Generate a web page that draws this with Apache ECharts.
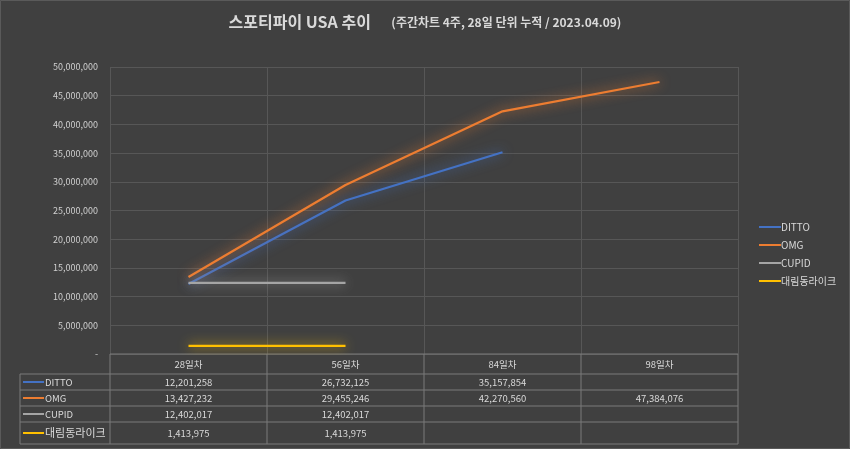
<!DOCTYPE html>
<html>
<head>
<meta charset="utf-8">
<script src="https://cdn.jsdelivr.net/npm/echarts@6/dist/echarts.min.js"></script>
<style>
html,body{margin:0;padding:0;background:#404040;}
#c{width:850px;height:449px;}
</style>
</head>
<body>
<div id="c"></div>
<script>
const categories = ['28일차', '56일차', '84일차', '98일차'];
const seriesNames = ['DITTO', 'OMG', 'CUPID', '대림동라이크'];
const ditto = [12201258, 26732125, 35157854, null];
const omg = [13427232, 29455246, 42270560, 47384076];
const cupid = [12402017, 12402017, null, null];
const daerim = [1413975, 1413975, null, null];
const colors = ['#4472C4', '#ED7D31', '#A5A5A5', '#FFC000'];
const yTicks = { min: 0, max: 50000000, interval: 5000000 };

const allData = [ditto, omg, cupid, daerim];
const FONT = '"Noto Sans CJK KR", "Noto Sans", sans-serif';
const fmt = v => v == null ? '' : v.toLocaleString('en-US');

const chart = echarts.init(document.getElementById('c'));
const gridLeft = 110, gridRight = 112, gridTop = 67, gridBottom = 95;

chart.setOption({
  backgroundColor: '#404040',
  animation: false,
  textStyle: { fontFamily: FONT },
  title: {
    text: '{a|스포티파이 USA 추이}     {b|(주간차트 4주, 28일 단위 누적 / 2023.04.09)}',
    left: 'center',
    top: 8,
    textStyle: {
      rich: {
        a: { fontSize: 16, fontWeight: 'bold', color: '#d9d9d9', fontFamily: FONT },
        b: { fontSize: 12, fontWeight: 'bold', color: '#d9d9d9', fontFamily: FONT }
      }
    }
  },
  legend: {
    orient: 'vertical',
    left: 754,
    top: 217,
    itemGap: 8,
    itemWidth: 22,
    itemHeight: 2,
    icon: 'rect',
    textStyle: { color: '#d9d9d9', fontSize: 10, padding: [0, 0, 0, -5] },
    data: seriesNames
  },
  grid: { left: gridLeft, right: gridRight, top: gridTop, bottom: gridBottom, containLabel: false },
  xAxis: {
    type: 'category',
    data: categories,
    boundaryGap: true,
    axisLine: { show: false },
    axisTick: { show: false },
    axisLabel: { color: '#d9d9d9', fontSize: 9.5, margin: 6 },
    splitLine: { show: true, lineStyle: { color: '#575757', width: 1 } }
  },
  yAxis: {
    type: 'value',
    min: yTicks.min, max: yTicks.max, interval: yTicks.interval,
    axisLine: { show: false },
    axisTick: { show: false },
    axisLabel: {
      color: '#d0d0d0', fontSize: 9, margin: 12,
      formatter: v => v === 0 ? '-' : fmt(v)
    },
    splitLine: { lineStyle: { color: '#575757', width: 1 } }
  },
  series: seriesNames.map((n, i) => ({
    name: n,
    type: 'line',
    data: allData[i],
    symbol: 'none',
    connectNulls: false,
    color: colors[i],
    lineStyle: {
      width: 2.2,
      color: colors[i],
      shadowColor: colors[i],
      shadowBlur: 12
    }
  }))
});

// Data table drawn from the arrays, positioned via the axis scale
function drawTable() {
  const c0 = chart.convertToPixel({ xAxisIndex: 0 }, categories[0]);
  const c1 = chart.convertToPixel({ xAxisIndex: 0 }, categories[1]);
  const bw = c1 - c0;
  const x0 = c0 - bw / 2;
  const xEnd = x0 + bw * categories.length;
  const yTop = chart.convertToPixel({ yAxisIndex: 0 }, 0);
  const leftX = 20;
  const rowTops = [yTop + 20, yTop + 36, yTop + 52, yTop + 68];
  const bottom = yTop + 90;
  const lineColor = '#7a7a7a';
  const els = [];
  els.push({ type: 'line', shape: { x1: x0, y1: yTop, x2: xEnd, y2: yTop }, style: { stroke: lineColor, lineWidth: 1 } });
  rowTops.concat([bottom]).forEach(y => {
    els.push({ type: 'line', shape: { x1: leftX, y1: y, x2: xEnd, y2: y }, style: { stroke: lineColor, lineWidth: 1 } });
  });
  els.push({ type: 'line', shape: { x1: leftX, y1: rowTops[0], x2: leftX, y2: bottom }, style: { stroke: lineColor, lineWidth: 1 } });
  for (let k = 0; k <= categories.length; k++) {
    const x = x0 + bw * k;
    els.push({ type: 'line', shape: { x1: x, y1: yTop, x2: x, y2: bottom }, style: { stroke: lineColor, lineWidth: 1 } });
  }
  seriesNames.forEach((n, i) => {
    const top = rowTops[i];
    const bot = i < 3 ? rowTops[i + 1] : bottom;
    const cy = (top + bot) / 2;
    els.push({ type: 'line', shape: { x1: leftX + 3, y1: cy, x2: leftX + 24, y2: cy }, style: { stroke: colors[i], lineWidth: 2 } });
    els.push({ type: 'text', style: { x: leftX + 25, y: cy, text: n, fill: '#d9d9d9', font: (i === 3 ? '11px ' : '9.5px ') + FONT, textVerticalAlign: 'middle', textAlign: 'left' } });
    categories.forEach((cat, j) => {
      const cx = chart.convertToPixel({ xAxisIndex: 0 }, cat);
      els.push({ type: 'text', style: { x: cx, y: cy, text: fmt(allData[i][j]), fill: '#d9d9d9', font: '9.5px ' + FONT, textAlign: 'center', textVerticalAlign: 'middle' } });
    });
  });
  els.push({ type: 'rect', shape: { x: 0.5, y: 0.5, width: 849, height: 448 }, style: { fill: 'none', stroke: '#5a5a5a', lineWidth: 1 } });
  chart.setOption({ graphic: els });
}
drawTable();
</script>
</body>
</html>
